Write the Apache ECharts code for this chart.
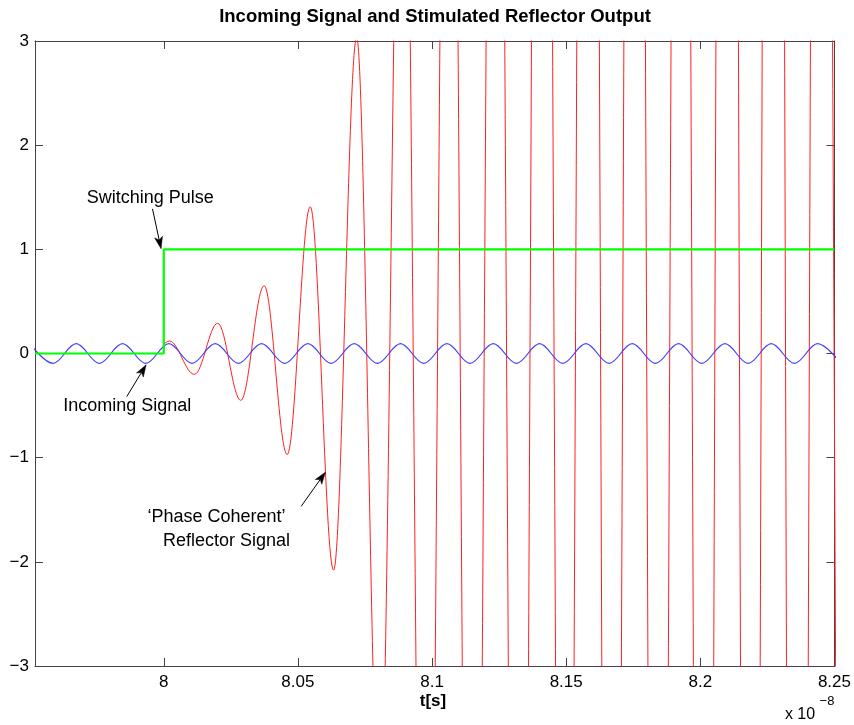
<!DOCTYPE html>
<html><head><meta charset="utf-8">
<script src="https://cdn.jsdelivr.net/npm/echarts@6/dist/echarts.min.js"></script>
<style>html,body{margin:0;padding:0;background:#fff}#c{width:854px;height:725px}</style>
</head><body><div id="c"></div>
<script>
// ---- data (x in units of 1e-8 s) ----
const blueT = [7.95009, 7.95873, 7.96736, 7.97600, 7.98463, 7.99327, 8.00190, 8.01054, 8.01918, 8.02781,
  8.03645, 8.04509, 8.05372, 8.06236, 8.07099, 8.07963, 8.08826, 8.09690, 8.10554, 8.11417,
  8.12281, 8.13145, 8.14008, 8.14872, 8.15735, 8.16599, 8.17462, 8.18326, 8.19190, 8.20053,
  8.20917, 8.21781, 8.22644, 8.23508, 8.24371, 8.25235];
const blueV = [0.095, -0.095, 0.095, -0.095, 0.095, -0.095, 0.095, -0.095, 0.095, -0.095,
  0.095, -0.095, 0.095, -0.095, 0.095, -0.095, 0.095, -0.095, 0.095, -0.095,
  0.095, -0.095, 0.095, -0.095, 0.095, -0.095, 0.095, -0.095, 0.095, -0.095,
  0.095, -0.095, 0.095, -0.095, 0.095, -0.095];
const redT = [8.0000, 8.0021, 8.0114, 8.0201, 8.0287, 8.0374, 8.0460, 8.0546, 8.0633, 8.0719,
  8.0805, 8.0891, 8.0978, 8.1064, 8.1151, 8.1237, 8.1324, 8.1410, 8.1496, 8.1583,
  8.1669, 8.1755, 8.1842, 8.1928, 8.2014, 8.2101, 8.2187, 8.2273, 8.2360, 8.2446, 8.2532];
const redV = [0.09, 0.12, -0.20, 0.29, -0.45, 0.65, -0.97, 1.41, -2.08, 3.03,
  -4.5, 6.8, -9.5, 9.8, -11.8, 11.5, -14, 16, -14, 20,
  -17, 19, -17, 16, -18, 23, -20, 25, -23, 18, -20];
const greenT = [7.952, 8.0, 8.0, 8.25];
const greenV = [0, 0, 1, 1];
const xTicks = [8, 8.05, 8.1, 8.15, 8.2, 8.25];
const xMin = 7.952, xMax = 8.25;
const yMin = -3, yMax = 3, yStep = 1;
const titleText = 'Incoming Signal and Stimulated Reflector Output';
const xName = 't[s]';
const annotations = [
  { lines: ['Switching Pulse'], at: [[7.99493, 1.490]], tail: [7.99579, 1.389], tip: [7.99900, 1.005] },
  { lines: ['Incoming Signal'], at: [[7.98640, -0.509]], tail: [7.98621, -0.413], tip: [7.99344, -0.108] },
  { lines: ['\u2018Phase Coherent\u2019', 'Reflector Signal'], at: [[8.01964, -1.574], [8.02337, -1.804]], tail: [8.05120, -1.468], tip: [8.06026, -1.139] }
];

const zip = (a, b) => a.map((v, i) => [v, b[i]]);
const FONT = '"Liberation Sans", Arial, Helvetica, sans-serif';
const axisColor = '#444';

const chart = echarts.init(document.getElementById('c'), null, { renderer: 'canvas' });

const xBase = {
  type: 'value', min: xMin, max: xMax,
  axisLine: { show: true, onZero: false, lineStyle: { color: axisColor, width: 1 } },
  axisTick: { show: true, inside: true, length: 8, customValues: xTicks, lineStyle: { color: axisColor } },
  splitLine: { show: false }
};
const yBase = {
  type: 'value', min: yMin, max: yMax, interval: yStep,
  axisLine: { show: true, onZero: false, lineStyle: { color: axisColor, width: 1 } },
  axisTick: { show: true, inside: true, length: 8, lineStyle: { color: axisColor } },
  splitLine: { show: false }
};

chart.setOption({
  animation: false,
  backgroundColor: '#fff',
  grid: { left: 35, right: 19, top: 41, bottom: 59, containLabel: false },
  xAxis: [
    Object.assign({}, xBase, { position: 'bottom',
      axisLabel: { show: true, customValues: xTicks, margin: 8, color: '#000', fontSize: 17, fontFamily: FONT,
        formatter: v => String(+(+v).toFixed(2)) } }),
    Object.assign({}, xBase, { position: 'top', axisLabel: { show: false } })
  ],
  yAxis: [
    Object.assign({}, yBase, { position: 'left',
      axisLabel: { show: true, margin: 6, color: '#000', fontSize: 17, fontFamily: FONT,
        formatter: v => (v < 0 ? '\u2212' + Math.abs(v) : String(v)) } }),
    Object.assign({}, yBase, { position: 'right', axisLabel: { show: false } })
  ],
  series: [
    { name: 'reflector', type: 'line', data: zip(redT, redV), showSymbol: false, smooth: 0.36, smoothMonotone: 'x',
      clip: true, lineStyle: { color: '#ff2020', width: 1 }, z: 2 },
    { name: 'incoming', type: 'line', data: zip(blueT, blueV), showSymbol: false, smooth: 0.36, smoothMonotone: 'x',
      clip: true, lineStyle: { color: '#4040ff', width: 1.2 }, z: 3 },
    { name: 'pulse', type: 'line', data: zip(greenT, greenV), showSymbol: false, smooth: false,
      clip: true, lineStyle: { color: '#00ff00', width: 2.2 }, z: 4 }
  ]
});

function buildGraphics() {
  const P = p => chart.convertToPixel({ gridIndex: 0 }, p);
  const g = [];
  const left = 35, right = 854 - 19;
  g.push({ type: 'text', x: (left + right) / 2, y: 17,
    style: { text: titleText, font: 'bold 18.5px ' + FONT, fill: '#000', align: 'center', verticalAlign: 'middle' } });
  g.push({ type: 'text', x: 433, y: 701,
    style: { text: xName, font: 'bold 17px ' + FONT, fill: '#000', align: 'center', verticalAlign: 'middle' } });
  g.push({ type: 'text', x: 800, y: 715,
    style: { text: 'x 10', font: '16px ' + FONT, fill: '#000', align: 'center', verticalAlign: 'middle' } });
  g.push({ type: 'text', x: 827, y: 701,
    style: { text: '\u22128', font: '13px ' + FONT, fill: '#000', align: 'center', verticalAlign: 'middle' } });
  annotations.forEach(a => {
    a.lines.forEach((t, i) => {
      const p = P(a.at[i]);
      g.push({ type: 'text', x: p[0], y: p[1], z: 10,
        style: { text: t, font: '18px ' + FONT, fill: '#000', align: 'center', verticalAlign: 'middle' } });
    });
    const s = P(a.tail), e = P(a.tip);
    const dx = e[0] - s[0], dy = e[1] - s[1], L = Math.hypot(dx, dy);
    const ux = dx / L, uy = dy / L, nx = -uy, ny = ux;
    const hl = 12, hw = 4, notch = 3;
    const bx = e[0] - ux * hl, by = e[1] - uy * hl;
    g.push({ type: 'line', z: 10, shape: { x1: s[0], y1: s[1], x2: bx + ux * notch, y2: by + uy * notch },
      style: { stroke: '#000', lineWidth: 1 } });
    g.push({ type: 'polygon', z: 10, shape: { points: [
      [e[0], e[1]], [bx + nx * hw, by + ny * hw], [bx + ux * notch, by + uy * notch], [bx - nx * hw, by - ny * hw]
    ] }, style: { fill: '#000', stroke: '#000', lineWidth: 0.5 } });
  });
  chart.setOption({ graphic: g });
}
buildGraphics();
</script>
</body></html>
